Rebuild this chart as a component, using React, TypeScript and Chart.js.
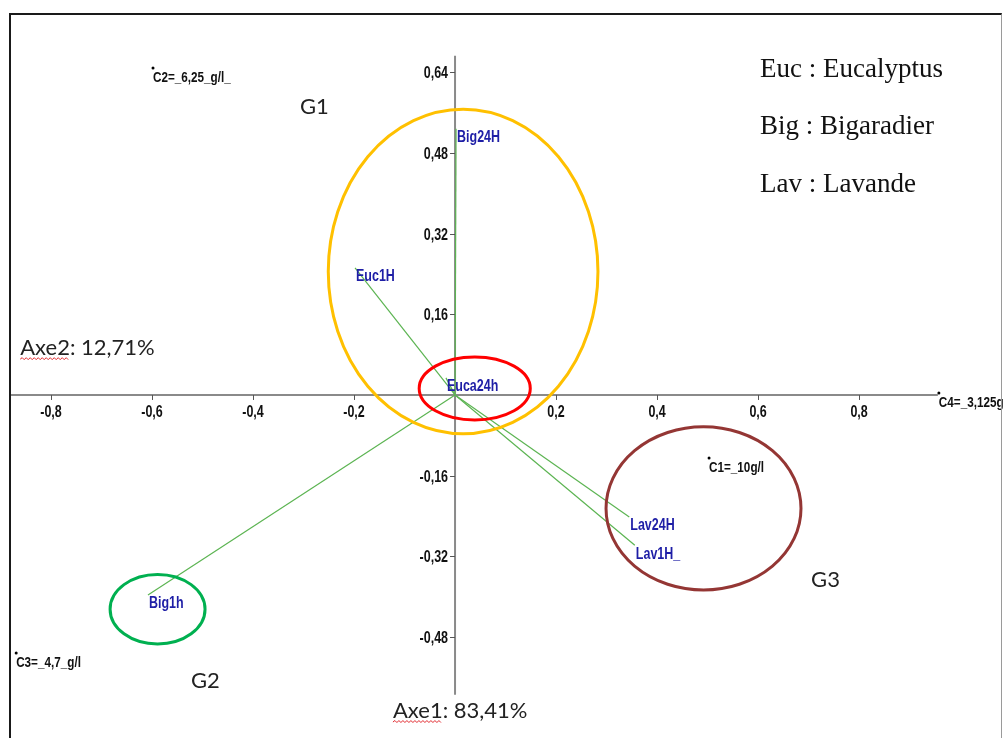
import React, { useEffect, useRef } from 'react';
import { Chart, registerables } from 'chart.js';

Chart.register(...registerables);

// ---------- data ----------
const activeNames = ['Big24H', 'Euc1H', 'Euca24h', 'Big1h', 'Lav24H', 'Lav1H_'];
const activeX = [0.002, -0.198, -0.018, -0.608, 0.345, 0.356];
const activeY = [0.528, 0.252, 0.034, -0.397, -0.242, -0.298];

const suppNames = ['C2=_6,25_g/l_', 'C3=_4,7_g/l', 'C1=_10g/l', 'C4=_3,125g/l'];
const suppX = [-0.598, -0.869, 0.503, 0.958];
const suppY = [0.649, -0.512, -0.125, 0.004];

const xTicks = [-0.8, -0.6, -0.4, -0.2, 0.2, 0.4, 0.6, 0.8];
const xTickLabels = ['-0,8', '-0,6', '-0,4', '-0,2', '0,2', '0,4', '0,6', '0,8'];
const yTicks = [-0.48, -0.32, -0.16, 0.16, 0.32, 0.48, 0.64];
const yTickLabels = ['-0,48', '-0,32', '-0,16', '0,16', '0,32', '0,48', '0,64'];

const axisXRange = [-0.881, 0.956];
const axisYRange = [-0.595, 0.673];

// group ellipses (data units)
const groupCX = [0.016, 0.039, -0.589, 0.492];
const groupCY = [0.245, 0.013, -0.425, -0.225];
const groupRX = [0.267, 0.110, 0.094, 0.193];
const groupRY = [0.322, 0.0625, 0.069, 0.162];
const groupColors = ['#FFC000', '#FF0000', '#00B050', '#943634'];

// group names
const groupNames = ['G1', 'G2', 'G3'];
const groupNameX = [-0.307, -0.523, 0.705];
const groupNameY = [0.5575, -0.581, -0.381];

// axis inertia texts
const axisTexts = ['Axe2: 12,71%', 'Axe1: 83,41%'];
const axisTextX = [-0.861, -0.123];
const axisTextY = [0.079, -0.641];

// key
const keyLines = ['Euc : Eucalyptus', 'Big : Bigaradier', 'Lav : Lavande'];
const keyX = [0.604, 0.604, 0.604];
const keyY = [0.631, 0.517, 0.403];

// ---------- helpers ----------
const NARROW = 0.78;
function narrowText(ctx: CanvasRenderingContext2D, text: string, x: number, y: number, align: CanvasTextAlign) {
  ctx.save();
  ctx.translate(x, y);
  ctx.scale(NARROW, 1);
  ctx.textAlign = align;
  ctx.fillText(text, 0, 0);
  ctx.restore();
}

function squiggle(ctx: CanvasRenderingContext2D, x0: number, x1: number, y: number) {
  ctx.save();
  ctx.strokeStyle = '#e0262b';
  ctx.lineWidth = 1;
  ctx.beginPath();
  let up = true;
  ctx.moveTo(x0, y);
  for (let x = x0 + 2; x <= x1; x += 2) {
    ctx.lineTo(x, up ? y - 1.5 : y + 0.5);
    up = !up;
  }
  ctx.stroke();
  ctx.restore();
}

const biplotPlugin = {
  id: 'biplot',
  beforeDatasetsDraw(chart: any) {
    const ctx: CanvasRenderingContext2D = chart.ctx;
    const xs = chart.scales.x;
    const ys = chart.scales.y;
    const x0 = xs.getPixelForValue(0);
    const y0 = ys.getPixelForValue(0);
    ctx.save();
    ctx.strokeStyle = '#8a8a8a';
    ctx.lineWidth = 2;
    ctx.beginPath();
    ctx.moveTo(xs.getPixelForValue(axisXRange[0]), y0);
    ctx.lineTo(xs.getPixelForValue(axisXRange[1]), y0);
    ctx.moveTo(x0, ys.getPixelForValue(axisYRange[0]));
    ctx.lineTo(x0, ys.getPixelForValue(axisYRange[1]));
    ctx.stroke();
    // ticks
    ctx.lineWidth = 1;
    ctx.strokeStyle = '#555';
    ctx.beginPath();
    xTicks.forEach((v) => {
      const px = Math.round(xs.getPixelForValue(v)) + 0.5;
      ctx.moveTo(px, y0);
      ctx.lineTo(px, y0 + 5);
    });
    yTicks.forEach((v) => {
      const py = Math.round(ys.getPixelForValue(v)) + 0.5;
      ctx.moveTo(x0, py);
      ctx.lineTo(x0 - 5, py);
    });
    ctx.stroke();
    ctx.fillStyle = '#111';
    ctx.font = 'bold 16px "Liberation Sans", Arial, sans-serif';
    ctx.textBaseline = 'middle';
    xTicks.forEach((v, i) => {
      narrowText(ctx, xTickLabels[i], xs.getPixelForValue(v), y0 + 18, 'center');
    });
    yTicks.forEach((v, i) => {
      narrowText(ctx, yTickLabels[i], x0 - 7, ys.getPixelForValue(v) + 1.5, 'right');
    });
    ctx.restore();
  },
  afterDatasetsDraw(chart: any) {
    const ctx: CanvasRenderingContext2D = chart.ctx;
    const xs = chart.scales.x;
    const ys = chart.scales.y;
    ctx.save();
    // ellipses
    groupCX.forEach((cx, i) => {
      const px = xs.getPixelForValue(cx);
      const py = ys.getPixelForValue(groupCY[i]);
      const rx = Math.abs(xs.getPixelForValue(cx + groupRX[i]) - px);
      const ry = Math.abs(ys.getPixelForValue(groupCY[i] + groupRY[i]) - py);
      ctx.beginPath();
      ctx.ellipse(px, py, rx, ry, 0, 0, Math.PI * 2);
      ctx.strokeStyle = groupColors[i];
      ctx.lineWidth = 3;
      ctx.stroke();
    });
    // active labels
    const activeMeta = chart.getDatasetMeta(activeNames.length);
    ctx.fillStyle = '#1e1ea6';
    ctx.font = 'bold 16px "Liberation Sans", Arial, sans-serif';
    ctx.textBaseline = 'middle';
    activeMeta.data.forEach((el: any, i: number) => {
      narrowText(ctx, activeNames[i], el.x + 1, el.y + 9, 'left');
    });
    // supplementary labels
    const suppMeta = chart.getDatasetMeta(activeNames.length + 1);
    ctx.fillStyle = '#111';
    ctx.font = 'bold 15px "Liberation Sans", Arial, sans-serif';
    suppMeta.data.forEach((el: any, i: number) => {
      narrowText(ctx, suppNames[i], el.x, el.y + 10, 'left');
    });
    // group names and axis texts
    ctx.font = '22px Lato, "Open Sans", sans-serif';
    ctx.textBaseline = 'alphabetic';
    ctx.textAlign = 'left';
    ctx.fillStyle = '#222';
    groupNames.forEach((g, i) => {
      ctx.fillText(g, xs.getPixelForValue(groupNameX[i]), ys.getPixelForValue(groupNameY[i]));
    });
    axisTexts.forEach((t, i) => {
      const px = xs.getPixelForValue(axisTextX[i]);
      const py = ys.getPixelForValue(axisTextY[i]);
      ctx.fillStyle = '#222';
      ctx.fillText(t, px, py);
      const w = ctx.measureText(t.split(':')[0]).width;
      squiggle(ctx, px, px + w, py + 4);
    });
    // key
    ctx.font = '27px "Liberation Serif", "Times New Roman", serif';
    ctx.fillStyle = '#111';
    keyLines.forEach((t, i) => {
      ctx.fillText(t, xs.getPixelForValue(keyX[i]), ys.getPixelForValue(keyY[i]));
    });
    ctx.restore();
  },
};

export default function App() {
  const canvasRef = useRef<HTMLCanvasElement | null>(null);

  useEffect(() => {
    const canvas = canvasRef.current;
    if (!canvas) return;
    const vectorSets = activeNames.map((name, i) => ({
      label: name,
      data: [
        { x: 0, y: 0 },
        { x: activeX[i], y: activeY[i] },
      ],
      showLine: true,
      borderColor: 'rgb(92,180,82)',
      borderWidth: 1.2,
      pointRadius: 0,
      fill: false,
      clip: false as any,
    }));
    const chart = new Chart(canvas, {
      type: 'scatter',
      data: {
        datasets: [
          ...vectorSets,
          {
            label: 'active',
            data: activeNames.map((_, i) => ({ x: activeX[i], y: activeY[i] })),
            pointRadius: 0,
            backgroundColor: '#1e1ea6',
            clip: false as any,
          },
          {
            label: 'supplementary',
            data: suppNames.map((_, i) => ({ x: suppX[i], y: suppY[i] })),
            pointRadius: 1.5,
            pointBorderWidth: 0,
            backgroundColor: '#000',
            borderColor: '#000',
            clip: false as any,
          },
        ],
      },
      options: {
        animation: false,
        responsive: false,
        devicePixelRatio: 1,
        events: [],
        layout: { padding: 0, autoPadding: false },
        plugins: { legend: { display: false }, tooltip: { enabled: false } },
        scales: {
          x: { type: 'linear', min: -0.901, max: 1.085, display: false },
          y: { type: 'linear', min: -0.6806, max: 0.7837, display: false },
        },
      },
      plugins: [biplotPlugin],
    });
    return () => chart.destroy();
  }, []);

  return (
    <div style={{ position: 'fixed', left: 0, top: 0, width: 1003, height: 738, overflow: 'hidden', background: '#fff' }}>
      <canvas ref={canvasRef} width={1003} height={738} style={{ position: 'absolute', left: 0, top: 0, width: 1003, height: 738 }} />
      <div
        style={{
          position: 'absolute',
          left: 9,
          top: 13,
          width: 990,
          height: 760,
          borderLeft: '2px solid #1a1a1a',
          borderTop: '2px solid #1a1a1a',
          borderRight: '1px solid #9a9a9a',
          pointerEvents: 'none',
        }}
      />
    </div>
  );
}
